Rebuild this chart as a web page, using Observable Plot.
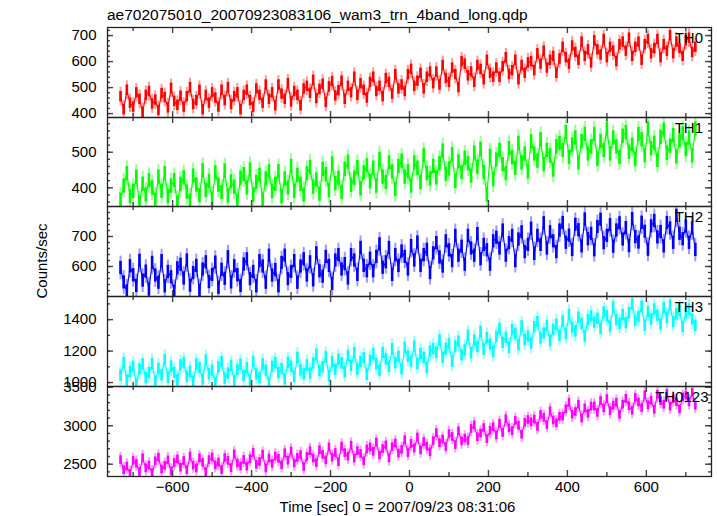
<!DOCTYPE html>
<html><head><meta charset="utf-8">
<script src="https://cdn.jsdelivr.net/npm/d3@7"></script>
<script src="https://cdn.jsdelivr.net/npm/@observablehq/plot@0.6"></script>
<style>
body{margin:0;background:#fff;}
#chart{position:relative;width:717px;height:516px;font-family:"Liberation Sans",Arial,Helvetica,sans-serif;color:#000;overflow:hidden;}
#chart svg{position:absolute;left:0;overflow:visible;}
.title{position:absolute;left:107px;top:7px;font-size:15.5px;line-height:1;white-space:nowrap;}
.ylab{position:absolute;left:41px;top:261px;transform:translate(-50%,-50%) rotate(-90deg);font-size:15px;line-height:1;white-space:nowrap;}
.xlab{position:absolute;left:397.5px;top:499px;transform:translateX(-50%);font-size:15px;line-height:1;white-space:nowrap;}
</style></head>
<body><div id="chart"></div>
<script>
const title = "ae702075010_20070923083106_wam3_trn_4band_long.qdp";
const xLabel = "Time [sec] 0 = 2007/09/23 08:31:06";
const yLabel = "Counts/sec";
const names = ["TH0", "TH1", "TH2", "TH3", "TH0123"];
const colors = ["#ff0000", "#00ff00", "#0000ff", "#00ffff", "#ff00ff"];
// error of each 8 s bin value (counts/sec)
const errs = [20, 20, 22, 36, 56];

// bin times (sec), 8 s bins
const times = d3.range(-732, 725, 8);

const TH0 = [
465,415,490,440,425,480,455,405,470,485,
437,452,412,477,462,422,497,447,432,467,
425,465,500,435,450,490,415,470,440,480,
460,425,490,450,500,435,465,480,415,470,
490,450,425,495,470,440,510,455,480,430,
510,475,455,515,445,485,470,430,495,505,
478,528,458,493,513,443,503,523,468,488,
525,455,505,480,540,470,515,490,460,520,
540,485,505,465,535,520,475,550,495,510,
485,550,570,505,525,555,495,540,560,515,
560,510,585,535,520,575,550,500,600,590,
545,560,520,585,570,530,605,555,540,575,
540,580,615,550,565,605,530,585,555,595,
600,565,630,590,640,575,605,620,555,610,
655,615,590,660,635,605,675,620,645,595,
680,645,625,685,615,655,640,600,665,675,
640,690,620,655,675,605,665,685,630,650,
685,615,665,640,700,630,675,650,620,680,
690,635,655];

const TH1 = [
365,405,440,375,390,430,355,410,380,420,
400,365,430,390,440,375,405,420,355,410,
428,388,363,433,408,378,448,393,418,368,
442,407,387,447,377,417,402,362,427,437,
400,450,380,415,435,365,425,445,390,410,
445,375,425,400,460,390,435,410,380,440,
457,402,422,382,452,437,392,467,412,427,
387,452,472,407,427,457,397,442,462,417,
455,405,480,430,415,470,445,395,460,475,
430,445,405,470,455,415,490,440,425,460,
428,468,503,438,453,493,418,473,443,483,
468,433,498,458,508,443,380,488,423,478,
505,465,440,510,485,455,525,470,495,445,
530,495,475,535,465,505,490,450,515,525,
505,555,485,520,540,470,530,550,495,515,
550,480,530,505,565,495,540,515,485,545,
555,500,520,480,550,535,490,565,510,525,
477,542,562,497,517,547,487,532,552,507,
540,490,565];

const TH2 = [
595,547,517,601,571,535,619,553,583,523,
612,570,546,618,534,582,564,516,594,606,
560,620,536,578,602,518,590,614,548,572,
613,529,589,559,631,547,601,571,535,607,
624,558,582,534,618,600,546,636,570,588,
534,612,636,558,582,618,546,600,624,570,
614,554,644,584,566,632,602,542,620,638,
590,608,560,638,620,572,662,602,584,626,
584,632,674,596,614,662,572,638,602,650,
632,590,668,620,680,602,638,656,578,644,
678,630,600,684,654,618,702,636,666,606,
702,660,636,708,624,672,654,606,684,696,
660,720,636,678,702,618,690,714,648,672,
726,642,702,672,744,660,714,684,648,720,
745,679,703,655,739,721,667,757,691,709,
654,732,756,678,702,738,666,720,744,690,
728,668,758,698,680,746,716,656,734,752,
697,715,667,745,727,679,769,709,691,733,
679,727,655];

const TH3 = [
1044,1124,1012,1068,1100,988,1084,1116,1028,1060,
1118,1006,1086,1046,1142,1030,1102,1062,1014,1110,
1124,1036,1068,1004,1116,1092,1020,1140,1052,1076,
993,1097,1129,1025,1057,1105,1009,1081,1113,1041,
1092,1012,1132,1052,1028,1116,1076,996,1100,1124,
1061,1085,1021,1125,1101,1037,1157,1077,1053,1109,
1057,1121,1177,1073,1097,1161,1041,1129,1081,1145,
1122,1066,1170,1106,1186,1082,1130,1154,1050,1138,
1180,1116,1076,1188,1148,1100,1212,1124,1164,1084,
1221,1165,1133,1229,1117,1181,1157,1093,1197,1213,
1189,1269,1157,1213,1245,1133,1229,1261,1173,1205,
1298,1186,1266,1226,1322,1210,1282,1242,1194,1290,
1341,1253,1285,1221,1333,1309,1237,1357,1269,1293,
1248,1352,1384,1280,1312,1360,1264,1336,1368,1296,
1389,1309,1429,1349,1325,1413,1373,1293,1397,1421,
1381,1405,1341,1445,1421,1357,1477,1397,1373,1429,
1377,1441,1497,1393,1417,1481,1361,1449,1401,1465,
1425,1369,1473,1409,1489,1385,1433,1457,1353,1441,
1465,1401,1361];

const TH0123 = [
2554,2422,2470,2374,2542,2506,2398,2578,2446,2482,
2382,2538,2586,2430,2478,2550,2406,2514,2562,2454,
2541,2421,2601,2481,2445,2577,2517,2397,2553,2589,
2484,2520,2424,2580,2544,2448,2628,2508,2472,2556,
2468,2564,2648,2492,2528,2624,2444,2576,2504,2600,
2570,2486,2642,2546,2666,2510,2582,2618,2462,2594,
2670,2574,2514,2682,2622,2550,2718,2586,2646,2526,
2729,2645,2597,2741,2573,2669,2633,2537,2693,2717,
2661,2781,2613,2697,2745,2577,2721,2769,2637,2685,
2812,2644,2764,2704,2848,2680,2788,2728,2656,2800,
2904,2772,2820,2724,2892,2856,2748,2928,2796,2832,
2802,2958,3006,2850,2898,2970,2826,2934,2982,2874,
3026,2906,3086,2966,2930,3062,3002,2882,3038,3074,
3044,3080,2984,3140,3104,3008,3188,3068,3032,3116,
3118,3214,3298,3142,3178,3274,3094,3226,3154,3250,
3250,3166,3322,3226,3346,3190,3262,3298,3142,3274,
3350,3254,3194,3362,3302,3230,3398,3266,3326,3206,
3404,3320,3272,3416,3248,3344,3308,3212,3368,3392,
3306,3426,3258];

const series = [TH0, TH1, TH2, TH3, TH0123];

const xDomain = [-765, 765];
const xMajor = [-600, -400, -200, 0, 200, 400, 600];
const xMinor = [-700, -500, -300, -100, 100, 300, 500, 700];

const yDomains = [[385, 731], [347.5, 597.5], [500, 800], [975, 1547], [2340, 3510]];
const yMajor = [[400, 500, 600, 700], [400, 500], [600, 700], [1000, 1200, 1400], [2500, 3000, 3500]];
const yMinor = [
  d3.range(400, 721, 20),
  d3.range(360, 581, 20),
  d3.range(520, 781, 20),
  d3.range(1000, 1501, 100),
  d3.range(2400, 3501, 100)
];
const labelDx = [-8.5, -8.5, -8.5, -8.5, -3];

// layout
const tops = [27, 117, 206, 296, 386];
const heights = [90, 89, 90, 90, 90];
const mL = 107, mR = 6, W = 717;
const pw = W - mL - mR;

const chart = document.getElementById("chart");
const t = document.createElement("div"); t.className = "title"; t.textContent = title; chart.appendChild(t);
const yl = document.createElement("div"); yl.className = "ylab"; yl.textContent = yLabel; chart.appendChild(yl);
const xl = document.createElement("div"); xl.className = "xlab"; xl.textContent = xLabel; chart.appendChild(xl);

const fmt = d => String(d);
const tickColor = "#444";
for (let i = 0; i < 5; i++) {
  const mt = 12, mb = i === 4 ? 40 : 12;
  const ph = heights[i];
  const e = errs[i];
  const data = times.map((tt, j) => ({t: tt, v: series[i][j]}));
  const marks = [
    Plot.ruleX(data, {x: "t", y1: d => d.v - 1.8 * e, y2: d => d.v + 1.8 * e, stroke: colors[i], strokeOpacity: 0.4, strokeWidth: 2, clip: true}),
    Plot.ruleX(data, {x: "t", y1: d => d.v - e, y2: d => d.v + e, stroke: colors[i], strokeWidth: 2.6, clip: true}),
    Plot.line(data, {x: "t", y: "v", stroke: colors[i], strokeWidth: 1.1, clip: true}),
    Plot.tickY(yMajor[i], {y: d => d, insetRight: pw - 6, stroke: tickColor, strokeWidth: 1.4}),
    Plot.tickY(yMajor[i], {y: d => d, insetLeft: pw - 6, stroke: tickColor, strokeWidth: 1.4}),
    Plot.tickY(yMinor[i], {y: d => d, insetRight: pw - 3, stroke: tickColor, strokeWidth: 1.4}),
    Plot.tickY(yMinor[i], {y: d => d, insetLeft: pw - 3, stroke: tickColor, strokeWidth: 1.4}),
    Plot.tickX(xMajor, {x: d => d, insetBottom: ph - 6, stroke: tickColor, strokeWidth: 1.4}),
    Plot.tickX(xMajor, {x: d => d, insetTop: ph - 6, stroke: tickColor, strokeWidth: 1.4}),
    Plot.tickX(xMinor, {x: d => d, insetBottom: ph - 4, stroke: tickColor, strokeWidth: 1.4}),
    Plot.tickX(xMinor, {x: d => d, insetTop: ph - 4, stroke: tickColor, strokeWidth: 1.4}),
    Plot.frame({stroke: "#222", strokeWidth: 1.3}),
    Plot.axisY(yMajor[i], {anchor: "left", tickSize: 0, tickPadding: 11, fontSize: 15, label: null, tickFormat: fmt}),
    Plot.text([names[i]], {text: d => d, frameAnchor: "top-right", textAnchor: "end", lineAnchor: "top", dx: labelDx[i], dy: 4.5, fontSize: 15, fill: "#000"})
  ];
  if (i === 4) {
    marks.push(Plot.axisX(xMajor, {anchor: "bottom", tickSize: 0, tickPadding: 5, fontSize: 15, label: null}));
  }
  const svg = Plot.plot({
    width: W, height: ph + mt + mb,
    marginLeft: mL, marginRight: mR, marginTop: mt, marginBottom: mb,
    x: {domain: xDomain, axis: i === 4 ? undefined : null},
    y: {domain: yDomains[i]},
    style: {background: "transparent", fontFamily: "Liberation Sans, Arial, sans-serif", fontSize: "15px", color: "#000", overflow: "visible"},
    marks
  });
  svg.style.top = (tops[i] - mt) + "px";
  chart.appendChild(svg);
}
</script>
</body></html>
